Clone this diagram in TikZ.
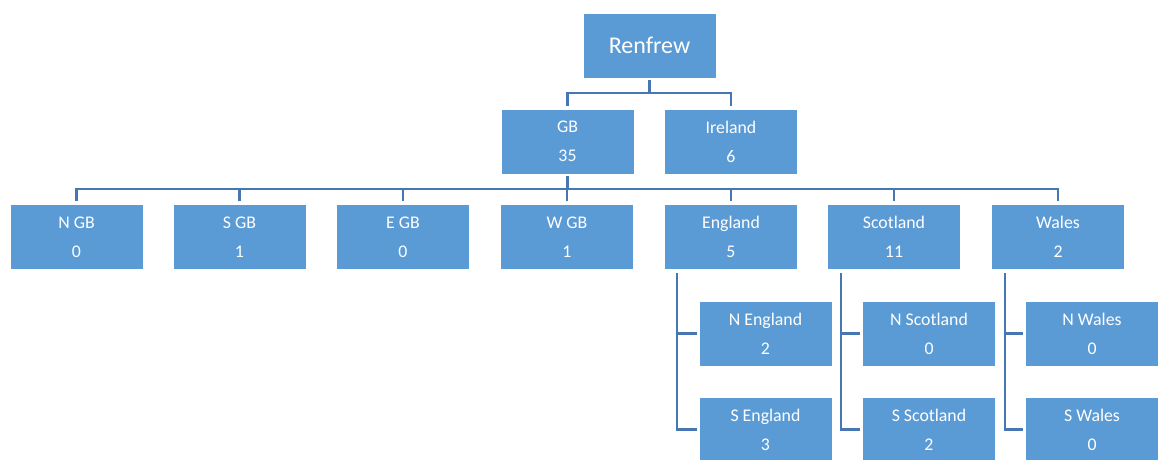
\documentclass[tikz,border=0pt]{standalone}
\usepackage{fontspec}
\setmainfont{Carlito}
\definecolor{boxfill}{HTML}{5B9BD5}
\definecolor{linec}{HTML}{4677B2}
\begin{document}
\begin{tikzpicture}[x=1pt,y=-1pt,
  box/.style={fill=boxfill,draw=white,line width=0.8pt,minimum width=133pt,minimum height=65pt,
    text=white,align=center,inner sep=0pt,font=\fontsize{17.8}{29}\selectfont},
  conn/.style={draw=linec,line width=2.6pt}]
\useasboundingbox (0,0) rectangle (1159,459);
\begin{scope}
\clip (0,0) rectangle (1159,459);
\node[box,font=\fontsize{24}{28}\selectfont] (ren) at (649.5,45.5) {Renfrew};
\node[box] (gb) at (567.5,141.5) {GB\\35};
\node[box] (ire) at (731,141.5) {Ireland\\6};
\node[box] (ngb) at (76.5,237) {N GB\\0};
\node[box] (sgb) at (239.5,237) {S GB\\1};
\node[box] (egb) at (403,237) {E GB\\0};
\node[box] (wgb) at (567,237) {W GB\\1};
\node[box] (eng) at (731,237) {England\\5};
\node[box] (sco) at (894,237) {Scotland\\11};
\node[box] (wal) at (1058,237) {Wales\\2};
\node[box] (neng) at (765.5,333.5) {N England\\2};
\node[box] (seng) at (765.5,429.5) {S England\\3};
\node[box] (nsco) at (929,333.5) {N Scotland\\0};
\node[box] (ssco) at (929,429.5) {S Scotland\\2};
\node[box] (nwal) at (1092,333.5) {N Wales\\0};
\node[box] (swal) at (1092,429.5) {S Wales\\0};
\end{scope}
\coordinate (bus1) at (0,93);
\coordinate (bus2) at (0,189);
\coordinate (ve) at (677,273);
\coordinate (vs) at (841,273);
\coordinate (vw) at (1005,273);
% level 1
\foreach \c in {gb,ire}
  \draw[conn] ([yshift=-2pt]ren.south) -- (ren.south |- bus1) -| ([yshift=3pt]\c.north);
% level 2
\foreach \c in {ngb,sgb,egb,wgb,eng,sco,wal}
  \draw[conn] ([yshift=-2pt]gb.south) -- (gb.south |- bus2) -| ([yshift=3pt]\c.north);
% level 3
\draw[conn] (ve) |- ([xshift=-2pt]neng.west);
\draw[conn] (ve) |- ([xshift=-2pt]seng.west);
\draw[conn] (vs) |- ([xshift=-2pt]nsco.west);
\draw[conn] (vs) |- ([xshift=-2pt]ssco.west);
\draw[conn] (vw) |- ([xshift=-2pt]nwal.west);
\draw[conn] (vw) |- ([xshift=-2pt]swal.west);
\end{tikzpicture}
\end{document}
